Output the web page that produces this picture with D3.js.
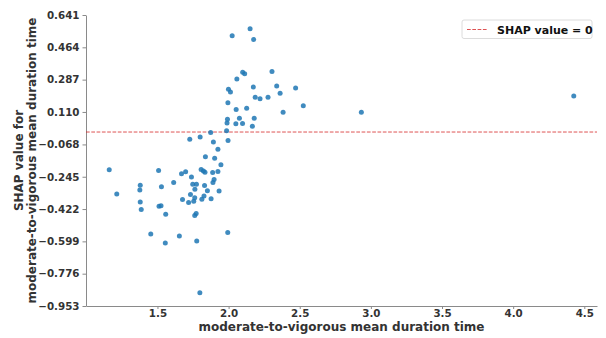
<!DOCTYPE html>
<html>
<head>
<meta charset="utf-8">
<script src="https://cdn.jsdelivr.net/npm/d3@7"></script>
<style>
  html, body { margin: 0; padding: 0; background: #fff; }
  svg { display: block; }
  text { font-family: "DejaVu Sans", sans-serif; font-weight: bold; }
</style>
</head>
<body>
<svg id="chart" width="606" height="338"></svg>
<script>
// Mean MVPA bout duration per subject and its SHAP contribution
const durationValues = [
  1.161, 1.214, 1.379, 1.376, 1.379, 1.386, 1.453, 1.508, 1.528, 1.511,
  1.525, 1.558, 1.555, 1.614, 1.654, 1.669, 1.698, 1.739, 1.748, 1.774,
  1.732, 1.763, 1.676, 1.719, 1.755, 1.762, 1.762, 1.772, 1.776, 1.798,
  1.807, 1.823, 1.834, 1.888, 1.925, 1.898, 1.890, 1.831, 1.851, 1.827,
  1.812, 1.877, 1.933, 1.837, 1.902, 1.946, 1.925, 1.893, 1.996, 1.727,
  1.800, 1.874, 1.986, 1.994, 1.989, 1.992, 2.051, 2.098, 2.076, 2.180,
  2.167, 2.053, 2.127, 1.995, 1.999, 2.013, 2.058, 2.099, 2.113, 2.305,
  2.174, 2.338, 2.471, 2.362, 2.187, 2.221, 2.277, 2.525, 2.383, 2.025,
  2.151, 2.176, 2.933, 4.426
];
const shapValues = [
  -0.207, -0.339, -0.291, -0.317, -0.383, -0.424, -0.558, -0.211, -0.300, -0.406,
  -0.404, -0.450, -0.608, -0.277, -0.569, -0.228, -0.218, -0.247, -0.286, -0.286,
  -0.342, -0.313, -0.370, -0.386, -0.379, -0.360, -0.457, -0.447, -0.597, -0.880,
  -0.205, -0.214, -0.221, -0.222, -0.216, -0.260, -0.276, -0.293, -0.322, -0.351,
  -0.368, -0.366, -0.323, -0.135, -0.143, -0.179, -0.095, -0.054, -0.046, -0.039,
  -0.027, -0.003, 0.007, -0.551, 0.050, 0.070, 0.045, 0.047, 0.076, 0.076,
  0.031, 0.123, 0.130, 0.161, 0.234, 0.219, 0.290, 0.327, 0.319, 0.331,
  0.246, 0.252, 0.241, 0.212, 0.191, 0.182, 0.190, 0.144, 0.108, 0.528,
  0.566, 0.507, 0.108, 0.197
];
const xTickValues = [1.5, 2.0, 2.5, 3.0, 3.5, 4.0, 4.5];
const yTickValues = [-0.953, -0.776, -0.599, -0.422, -0.245, -0.068, 0.110, 0.287, 0.464, 0.641];
const yExtent = [-0.953, 0.641];
const baselineValue = 0;

const featureName = "moderate-to-vigorous mean duration time";
const legendLabel = "SHAP value = 0";

const points = durationValues.map((d, i) => ({ x: d, y: shapValues[i] }));

const svg = d3.select("#chart");
const margin = { left: 86, right: 9, top: 15, bottom: 32 };
const width = 606, height = 338;

// x range padded by 5% on each side of the data
const [xMin, xMax] = d3.extent(durationValues);
const pad = (xMax - xMin) * 0.05;
const x = d3.scaleLinear()
  .domain([xMin - pad, xMax + pad])
  .range([margin.left, width - margin.right]);
const y = d3.scaleLinear()
  .domain(yExtent)
  .range([height - margin.bottom, margin.top]);

const axisColor = "#8a8a8a";
const textColor = "#333";

// x axis
const xAxis = svg.append("g")
  .attr("transform", `translate(0,${height - margin.bottom})`)
  .call(d3.axisBottom(x).tickValues(xTickValues).tickFormat(d3.format(".1f")).tickSize(3).tickPadding(1).tickSizeOuter(0));
// y axis
const yAxis = svg.append("g")
  .attr("transform", `translate(${margin.left},0)`)
  .call(d3.axisLeft(y).tickValues(yTickValues).tickFormat(d3.format(".3f")).tickSize(3.5).tickPadding(3).tickSizeOuter(0));

[xAxis, yAxis].forEach(g => {
  g.select(".domain").attr("stroke", axisColor).attr("stroke-width", 1);
  g.selectAll(".tick line").attr("stroke", axisColor);
  g.selectAll(".tick text")
    .attr("fill", textColor)
    .style("font-size", "10.3px")
    .style("font-family", "'DejaVu Sans', sans-serif")
    .style("font-weight", "bold");
});
// use a true minus sign like the typeset labels
yAxis.selectAll(".tick text").text(d => d3.format(".3f")(d).replace("-", "\u2212"));

// zero reference line
svg.append("line")
  .attr("x1", margin.left).attr("x2", width - margin.right)
  .attr("y1", y(baselineValue)).attr("y2", y(baselineValue))
  .attr("stroke", "#d62728").attr("stroke-opacity", 0.8)
  .attr("stroke-width", 1).attr("stroke-dasharray", "3.7,1.6");

// scatter
svg.append("g").selectAll("circle")
  .data(points)
  .join("circle")
  .attr("cx", d => x(d.x))
  .attr("cy", d => y(d.y))
  .attr("r", 2.5)
  .attr("fill", "#1f77b4")
  .attr("fill-opacity", 0.85);

// axis titles
svg.append("text")
  .attr("x", (margin.left + width - margin.right) / 2)
  .attr("y", 331)
  .attr("text-anchor", "middle")
  .attr("fill", textColor)
  .style("font-size", "12px")
  .text(featureName);

const yMid = (margin.top + height - margin.bottom) / 2;
const yTitle = svg.append("text")
  .attr("transform", `translate(23,${yMid}) rotate(-90)`)
  .attr("text-anchor", "middle")
  .attr("fill", textColor)
  .style("font-size", "12px");
yTitle.append("tspan").attr("x", 0).attr("dy", 0).text("SHAP value for");
yTitle.append("tspan").attr("x", 0).attr("dy", 12.5).text(featureName);

// legend
const legend = svg.append("g").attr("transform", "translate(462,20)");
legend.append("rect")
  .attr("width", 130).attr("height", 18.5).attr("rx", 2)
  .attr("fill", "#fff").attr("stroke", "#dcdcdc").attr("stroke-width", 1);
legend.append("line")
  .attr("x1", 5).attr("x2", 25).attr("y1", 9.5).attr("y2", 9.5)
  .attr("stroke", "#d62728").attr("stroke-opacity", 0.8)
  .attr("stroke-width", 1).attr("stroke-dasharray", "3.7,1.6");
legend.append("text")
  .attr("x", 35).attr("y", 13.5)
  .attr("fill", "#111")
  .style("font-size", "11px")
  .text(legendLabel);
</script>
</body>
</html>
